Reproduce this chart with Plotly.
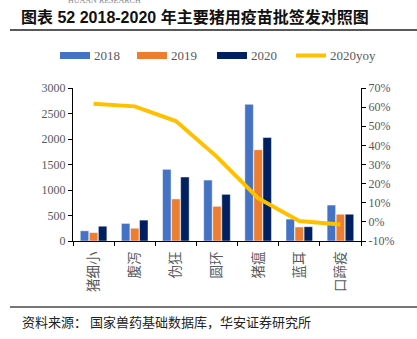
import plotly.graph_objects as go

# 主要猪用疫苗批签发数量（批次）与 2020 年同比
categories = ["猪细小", "腹泻", "伪狂", "圆环", "猪瘟", "蓝耳", "口蹄疫"]
v2018 = [200, 345, 1405, 1195, 2680, 430, 705]
v2019 = [165, 250, 825, 680, 1790, 275, 525]
v2020 = [290, 410, 1255, 915, 2030, 280, 525]
yoy2020 = [61.8, 60.4, 52.7, 34.0, 12.4, 0.4, -1.4]

left_ticks = [0, 500, 1000, 1500, 2000, 2500, 3000]
right_ticks = [-10, 0, 10, 20, 30, 40, 50, 60, 70]
right_labels = [f"{t}%" for t in right_ticks]

series_names = ["2018", "2019", "2020"]
series_values = [v2018, v2019, v2020]
series_colors = ["#4472C4", "#ED7D31", "#002060"]
line_color = "#FFC000"

serif = "Liberation Serif, Noto Sans CJK SC"
cjk = "Noto Sans CJK SC"
label_grey = "#595959"

# plot-area geometry in pixels
W, H = 417, 339
L, R, T, B = 73, 361, 88, 241
PW, PH = R - L, B - T


def px_x(x):
    return (x - L) / PW


def px_y(y):
    return (B - y) / PH


fig = go.Figure()

for name, vals, color in zip(series_names, series_values, series_colors):
    fig.add_trace(go.Bar(
        x=categories, y=vals, name=name,
        marker=dict(color=color, line=dict(color="rgba(255,255,255,0.8)", width=0.6)),
        showlegend=False,
    ))

fig.add_trace(go.Scatter(
    x=categories, y=yoy2020, name="2020yoy", yaxis="y2",
    mode="lines", line=dict(color=line_color, width=4),
    showlegend=False,
))

fig.update_layout(
    width=W, height=H,
    margin=dict(l=L, r=W - R, t=T, b=H - B, autoexpand=False),
    paper_bgcolor="white", plot_bgcolor="white",
    barmode="group", bargap=0.34, bargroupgap=0.06,
    font=dict(family=serif, size=12, color=label_grey),
    showlegend=False,
    xaxis=dict(
        showline=True, linecolor="black", linewidth=1,
        ticks="outside", tickson="boundaries", ticklen=4, tickcolor="black",
        tickangle=-90,
        tickfont=dict(family=cjk, size=13.5, color=label_grey),
        ticklabelstandoff=4,
        showgrid=False, zeroline=False, automargin=False,
    ),
    yaxis=dict(
        range=[0, 3000], tickvals=left_ticks,
        showline=True, linecolor="black", linewidth=1,
        ticks="outside", ticklen=4, tickcolor="black",
        tickfont=dict(family=serif, size=12, color=label_grey),
        showgrid=False, zeroline=False, automargin=False,
    ),
    yaxis2=dict(
        range=[-10, 70], tickvals=right_ticks, ticktext=right_labels,
        overlaying="y", side="right",
        showline=True, linecolor="black", linewidth=1,
        ticks="outside", ticklen=4, tickcolor="black",
        tickfont=dict(family=serif, size=12, color=label_grey),
        showgrid=False, zeroline=False, automargin=False,
    ),
)

# legend: wide swatches followed by their labels
legend_items = [
    ("2018", series_colors[0], 60, 7),
    ("2019", series_colors[1], 137, 7),
    ("2020", series_colors[2], 217, 7),
    ("2020yoy", line_color, 296, 4),
]
legend_y = 55.5
for name, color, x0, lw in legend_items:
    fig.add_shape(
        type="line", xref="paper", yref="paper",
        x0=px_x(x0), x1=px_x(x0 + 30), y0=px_y(legend_y), y1=px_y(legend_y),
        line=dict(color=color, width=lw),
    )
    fig.add_annotation(
        text=name, xref="paper", yref="paper",
        x=px_x(x0 + 32), y=px_y(legend_y), xanchor="left", yanchor="middle",
        showarrow=False, font=dict(family=serif, size=13, color=label_grey),
    )

# header, rules and source note
fig.add_annotation(
    text="HUAAN RESEARCH", xref="paper", yref="paper",
    x=px_x(104), y=px_y(0), xanchor="center", yanchor="middle",
    showarrow=False, font=dict(family=serif, size=8, color="#888888"),
)
fig.add_annotation(
    text="<b>图表 52 2018-2020 年主要猪用疫苗批签发对照图</b>",
    xref="paper", yref="paper",
    x=px_x(19), y=px_y(16.5), xanchor="left", yanchor="middle",
    showarrow=False, font=dict(family="Liberation Sans, Noto Sans CJK SC", size=16, color="#111111"),
)
fig.add_shape(
    type="line", xref="paper", yref="paper",
    x0=px_x(10), x1=px_x(417), y0=px_y(30), y1=px_y(30),
    line=dict(color="#222222", width=1.5),
)
fig.add_shape(
    type="line", xref="paper", yref="paper",
    x0=px_x(10), x1=px_x(417), y0=px_y(307), y1=px_y(307),
    line=dict(color="#777777", width=2),
)
fig.add_annotation(
    text="资料来源： 国家兽药基础数据库，华安证券研究所",
    xref="paper", yref="paper",
    x=px_x(20), y=px_y(321), xanchor="left", yanchor="middle",
    showarrow=False, font=dict(family=cjk, size=13, color="#222222"),
)

fig.write_html("out.html")
